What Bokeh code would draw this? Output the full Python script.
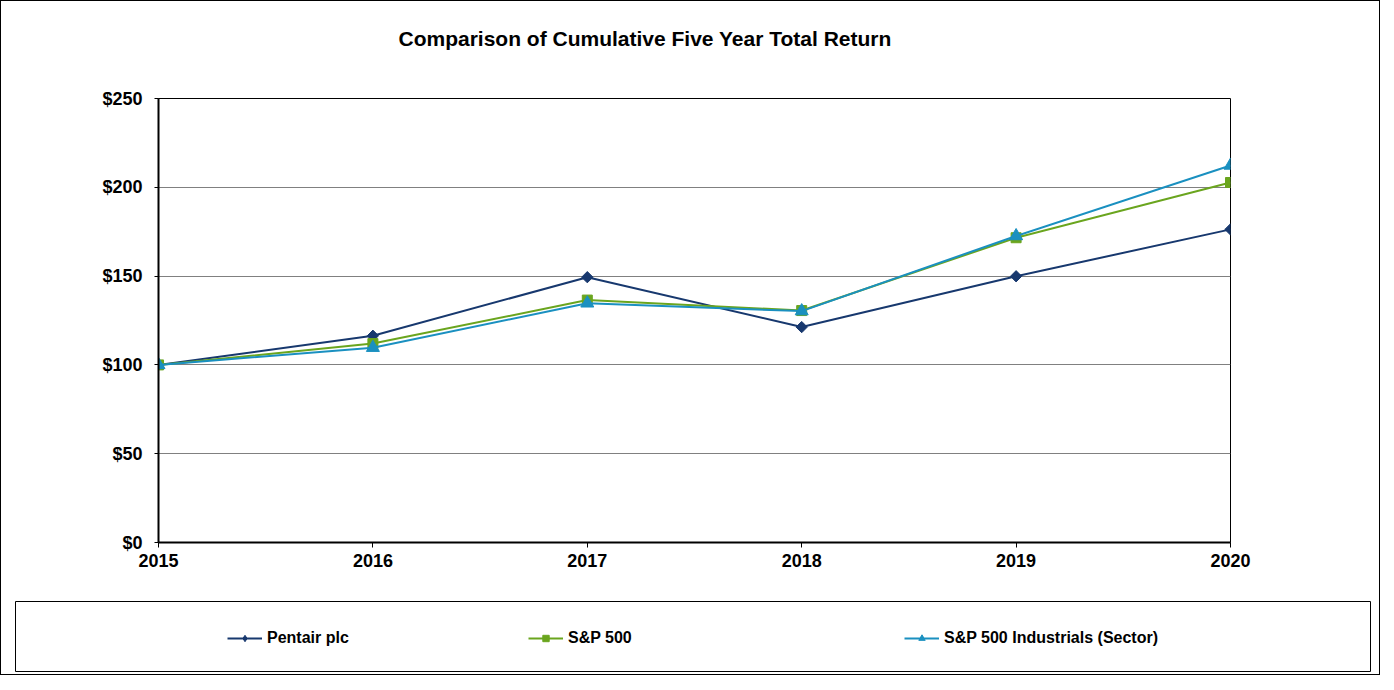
from bokeh.plotting import figure
from bokeh.layouts import column
from bokeh.models import (Range1d, FixedTicker, PrintfTickFormatter, Legend,
                          LegendItem, Label)
from bokeh.embed import file_html
from bokeh.resources import INLINE

years = [2015, 2016, 2017, 2018, 2019, 2020]
pentair = [100, 116.4, 149.4, 121.3, 149.9, 176.3]
sp500 = [100, 112.0, 136.5, 130.6, 171.6, 202.7]
industrials = [100, 109.7, 134.7, 130.3, 172.6, 212.3]
y_ticks = [0, 50, 100, 150, 200, 250]
grid_ticks = [50, 100, 150, 200]
title_text = "Comparison of Cumulative Five Year Total Return"
series_names = ["Pentair plc", "S&P 500", "S&P 500 Industrials (Sector)"]

FONT = "Liberation Sans"
NAVY = "#17386E"
GREEN = "#6AA51E"
TEAL = "#1A90C0"
colors = [NAVY, GREEN, TEAL]
markers = ["square", "square", "triangle"]
angles = [0.785398, 0.0, 0.0]
msizes = [8, 10, 13]
leg_markers = ["diamond", "square", "triangle"]
leg_sizes = [13, 10, 13]
series = [pentair, sp500, industrials]

W = 1378


def bare(height, **kw):
    f = figure(width=W, height=height, output_backend="svg", toolbar_location=None,
               x_range=Range1d(0, 1), y_range=Range1d(0, 1),
               x_axis_type=None, y_axis_type=None, **kw)
    f.frame_align = False
    f.xgrid.visible = False
    f.ygrid.visible = False
    f.background_fill_color = "white"
    f.border_fill_color = "white"
    return f


# title strip
t = bare(87, min_border_left=0, min_border_right=0, min_border_top=0, min_border_bottom=0)
t.outline_line_color = None
t.add_layout(Label(x=397, y=50, x_units="screen", y_units="screen", text=title_text,
                   text_align="left", text_baseline="middle", text_font=FONT,
                   text_font_style="bold", text_font_size="21px", text_color="black"))

# main chart
p = figure(width=W, height=502, output_backend="svg", toolbar_location=None,
           x_range=Range1d(2015, 2020), y_range=Range1d(0, 250),
           min_border_left=157, min_border_right=149,
           min_border_top=10, min_border_bottom=48)
p.frame_align = False
p.background_fill_color = "white"
p.border_fill_color = "white"
p.outline_line_color = "black"
p.outline_line_width = 1

p.xgrid.visible = False
p.ygrid.ticker = FixedTicker(ticks=grid_ticks)
p.ygrid.grid_line_color = "#808080"
p.ygrid.grid_line_width = 1

for ax in (p.xaxis[0], p.yaxis[0]):
    ax.axis_line_color = "black"
    ax.axis_line_width = 2
    ax.major_tick_line_color = "black"
    ax.major_tick_line_width = 1
    ax.minor_tick_line_color = None
    ax.major_tick_in = 0
    ax.major_label_text_font = FONT
    ax.major_label_text_font_style = "bold"
    ax.major_label_text_font_size = "18px"
    ax.major_label_text_color = "black"

p.yaxis.ticker = FixedTicker(ticks=y_ticks)
p.yaxis.formatter = PrintfTickFormatter(format="$%d")
p.yaxis.major_tick_out = 4
p.yaxis.major_label_standoff = 12

p.xaxis.ticker = FixedTicker(ticks=years)
p.xaxis.formatter = PrintfTickFormatter(format="%d")
p.xaxis.major_tick_out = 5
p.xaxis.major_label_standoff = 6

for vals, c, mk, ang, ms in zip(series, colors, markers, angles, msizes):
    p.line(years, vals, color=c, line_width=2)
    p.scatter(years, vals, marker=mk, angle=ang, size=ms, color=c)

# legend strip (its frame is the legend box)
q = bare(84, min_border_left=14, min_border_right=9, min_border_top=11, min_border_bottom=3)
q.outline_line_color = "black"
q.outline_line_width = 1

legend_x = [212, 513, 889]
for name, c, mk, ms, lx in zip(series_names, colors, leg_markers, leg_sizes, legend_x):
    lr = q.line([-5, -4], [-5, -5], color=c, line_width=2)
    sr = q.scatter([-5], [-5], marker=mk, size=ms, color=c)
    leg = Legend(items=[LegendItem(label=name, renderers=[lr, sr])], location=(lx, 24),
                 orientation="horizontal", glyph_width=35, glyph_height=16,
                 label_height=16, label_standoff=5, padding=0, margin=0, spacing=0,
                 border_line_alpha=0, background_fill_alpha=0,
                 label_text_font=FONT, label_text_font_style="bold",
                 label_text_font_size="16px", label_text_color="black")
    q.add_layout(leg)

layout = column(t, p, q, spacing=0, styles={"border": "1px solid black"})
open("out.html", "w").write(file_html(layout, INLINE))
